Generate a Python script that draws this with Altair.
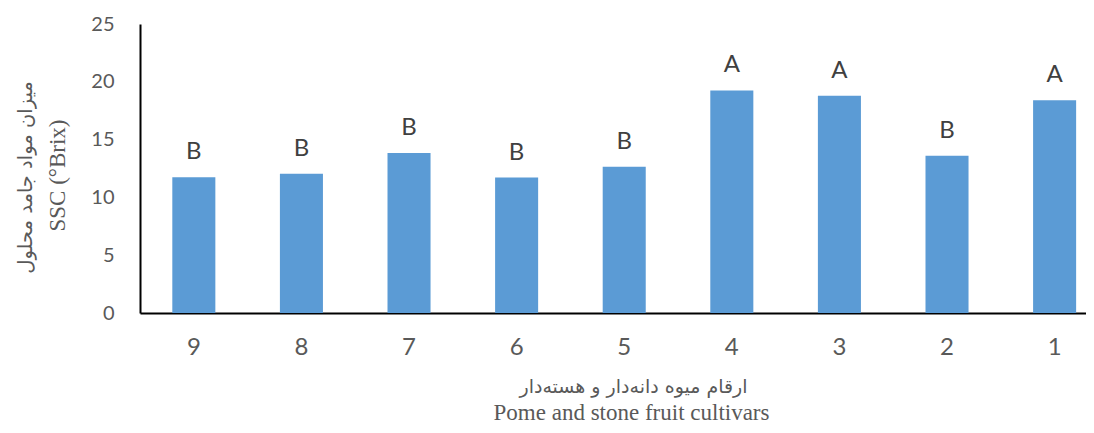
import altair as alt
import pandas as pd

cultivars = ["9", "8", "7", "6", "5", "4", "3", "2", "1"]
ssc = [11.75, 12.05, 13.85, 11.72, 12.65, 19.25, 18.8, 13.6, 18.4]
letters = ["B", "B", "B", "B", "B", "A", "A", "B", "A"]
y_ticks = [0, 5, 10, 15, 20, 25]

x_title_fa = "ارقام میوه دانه‌دار و هسته‌دار"
x_title_en = "Pome and stone fruit cultivars"
y_title_fa = "میزان مواد جامد محلول"
y_title_en = "SSC (°Brix)"

df = pd.DataFrame({"cultivar": cultivars, "ssc": ssc, "group": letters})

x_scale = alt.Scale(paddingInner=0.6, paddingOuter=0.196, align=0.766, round=False)
y_scale = alt.Scale(domain=[0, 25], nice=False)

GRAY = "#595959"

# Layer 1: bars, carries the visible axes and the Persian titles
bars = alt.Chart(df).mark_bar(color="#5B9BD5").encode(
    x=alt.X(
        "cultivar:N",
        sort=cultivars,
        scale=x_scale,
        axis=alt.Axis(
            orient="bottom",
            title=x_title_fa,
            labelAngle=0,
            labelFont="Lato",
            labelFontSize=24,
            labelColor=GRAY,
            labelPadding=22,
            ticks=False,
            domainColor="#000000",
            domainWidth=2,
            titleFont="DejaVu Sans",
            titleFontSize=19,
            titleFontWeight="normal",
            titleColor=GRAY,
            titleBaseline="middle",
            titleAlign="center",
            titleX=493,
            titleY=73,
        ),
    ),
    y=alt.Y(
        "ssc:Q",
        scale=y_scale,
        axis=alt.Axis(
            orient="left",
            title=y_title_fa,
            values=y_ticks,
            grid=False,
            ticks=False,
            labelFont="Lato",
            labelFontSize=20,
            labelColor=GRAY,
            labelPadding=26,
            domainColor="#000000",
            domainWidth=2,
            titleFont="DejaVu Sans",
            titleFontSize=19.5,
            titleFontWeight="normal",
            titleColor=GRAY,
            titleAngle=270,
            titleBaseline="middle",
            titleAlign="center",
            titleX=-115,
            titleY=153,
        ),
    ),
)

# Layer 2: letter labels, carries the English titles (axes with no labels/domain)
labels = alt.Chart(df).mark_text(
    dy=-18, baseline="alphabetic", font="Lato", fontSize=24, color="#404040"
).encode(
    x=alt.X(
        "cultivar:N",
        sort=cultivars,
        scale=x_scale,
        axis=alt.Axis(
            orient="bottom",
            title=x_title_en,
            labels=False,
            ticks=False,
            domain=False,
            titleFont="Liberation Serif",
            titleFontSize=23,
            titleFontWeight="normal",
            titleColor=GRAY,
            titleBaseline="middle",
            titleAlign="center",
            titleX=491,
            titleY=99,
        ),
    ),
    y=alt.Y(
        "ssc:Q",
        scale=y_scale,
        axis=alt.Axis(
            orient="left",
            title=y_title_en,
            labels=False,
            ticks=False,
            domain=False,
            grid=False,
            titleFont="Liberation Serif",
            titleFontSize=23,
            titleFontWeight="normal",
            titleColor=GRAY,
            titleAngle=270,
            titleBaseline="middle",
            titleAlign="center",
            titleX=-83,
            titleY=151,
        ),
    ),
    text="group:N",
)

chart = (
    alt.layer(bars, labels)
    .resolve_axis(x="independent", y="independent")
    .properties(
        width=946,
        height=289,
        autosize=alt.AutoSizeParams(type="none"),
        padding={"left": 132, "top": 16, "right": 0, "bottom": 112},
    )
    .configure_view(stroke=None)
)

chart.save("out.html", embed_options={"renderer": "svg", "actions": False})
